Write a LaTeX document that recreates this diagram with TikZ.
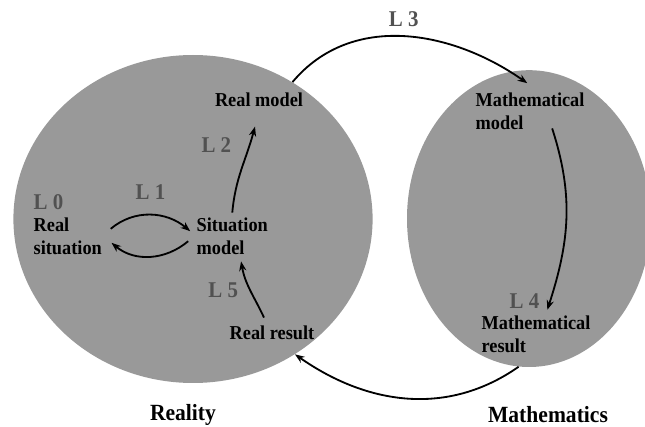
\documentclass[tikz,border=0pt]{standalone}
\usepackage{fontspec}
\setmainfont{Liberation Serif}
\newfontfamily\narrowserif{Liberation Serif}[FakeStretch=0.93]
\usetikzlibrary{arrows.meta, positioning, shapes.geometric}
\definecolor{mmgray}{HTML}{999999}
\definecolor{mmlabel}{HTML}{515151}

\begin{document}
\begin{tikzpicture}[
    world/.style={ellipse, fill=mmgray, draw=none, inner sep=0pt},
    stage/.style={align=left, inner sep=1pt, font=\narrowserif\fontsize{14}{16.5}\selectfont\bfseries},
    level/.style={inner sep=1pt, text=mmlabel, font=\narrowserif\fontsize{16}{18}\selectfont\bfseries},
    realm/.style={inner sep=1pt, font=\narrowserif\fontsize{16.5}{19}\selectfont\bfseries},
    arrow/.style={-{Stealth[length=2.4mm, width=1.8mm]}, line width=1.3pt, black}
  ]
    \useasboundingbox (0,0) rectangle (16.125,10.675);
    \node[world, minimum width=8.98cm, minimum height=8.2cm] (realworld) at (4.825,5.2) {};
    \node[world, minimum width=6.1cm, minimum height=7.42cm] (mathworld) at (13.225,5.21) {};

    \node[stage, anchor=west] (realsit) at (0.8,4.775) {Real\\situation};
    \node[stage, anchor=west] (sitmod) at (4.875,4.775) {Situation\\model};
    \node[stage] (realmod) at (6.475,8.175) {Real model};
    \node[stage, anchor=west] (mathmod) at (11.85,7.89) {Mathematical\\model};
    \node[stage, anchor=west] (mathres) at (12.0,2.325) {Mathematical\\result};
    \node[stage] (realres) at (6.8,2.35) {Real result};
    \node[realm] (reality) at (4.575,0.3) {Reality};
    \node[realm] (mathematics) at (13.7,0.3) {Mathematics};

    \node[level, above right=0.12cm and 0cm of realsit.north west] (l0) {L 0};
    \node[level, above right=0.08cm and 0.7cm of mathres.north west] (l4) {L 4};

    \draw[arrow] ([shift={(0.18,0.18)}]realsit.east) to[out=40, in=140]
      node[level, above=0.33cm] (l1) {L 1} ([shift={(-0.12,0.12)}]sitmod.west);
    \draw[arrow] ([shift={(-0.17,-0.13)}]sitmod.west) to[out=-140, in=-40] ([shift={(0.2,-0.17)}]realsit.east);
    \draw[arrow] ([yshift=0.08cm]sitmod.north) to[out=85, in=-105]
      node[level, pos=0.8, left=0.4cm] (l2) {L 2} ([shift={(-0.1,-0.45)}]realmod.south);
    \draw[arrow] (realworld.54) to[out=50, in=145]
      node[level, above=0.18cm] (l3) {L 3} ([shift={(-0.07,0.2)}]mathmod.north);
    \draw[arrow] ([shift={(-0.85,0.08)}]mathmod.south east) to[out=-72, in=72] ([shift={(-1.12,0.1)}]mathres.north east);
    \draw[arrow] (mathworld.266) to[out=-145, in=-35] (realworld.-53);
    \draw[arrow] ([shift={(-0.2,0.17)}]realres.north) to[out=115, in=-80]
      node[level, pos=0.5, left=0.25cm] (l5) {L 5} ([shift={(0.22,-0.13)}]sitmod.south);
\end{tikzpicture}
\end{document}
